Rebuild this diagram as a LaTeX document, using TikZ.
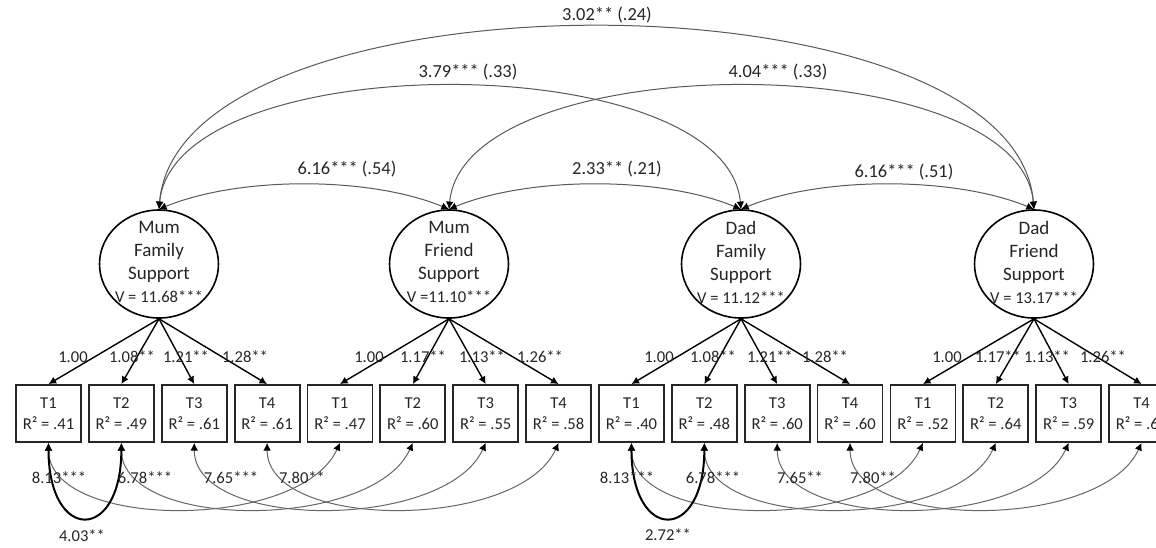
\documentclass[tikz,border=0pt]{standalone}
\usepackage{fontspec}
\setmainfont{Carlito}
\usetikzlibrary{arrows.meta,shapes.geometric}
\begin{document}
\begin{tikzpicture}[x=0.5pt,y=-0.5pt,
  tip/.tip={Latex[length=3.8pt,width=3.8pt,color=black]},
  lat/.style={draw=black, line width=0.8pt, ellipse, minimum width=59.5pt, minimum height=54pt, inner sep=0pt},
  lattext/.style={align=center, font=\fontsize{9.5}{11.5}\selectfont, inner sep=0pt, text=black!85},
  ind/.style={draw=black!85, line width=0.9pt, minimum width=32.5pt, minimum height=28.5pt, inner sep=0pt, align=center, font=\fontsize{8.3}{10.5}\selectfont, text=black!85},
  load/.style={draw=black, line width=0.7pt, -tip},
  cov/.style={draw=black!65, line width=0.5pt, tip-tip},
  rescov/.style={draw=black!60, line width=0.5pt, tip-tip},
  thickcov/.style={draw=black, line width=1pt, tip-tip},
  toplab/.style={font=\fontsize{9.2}{11}\selectfont, inner sep=0pt, text=black!85},
  smlab/.style={font=\fontsize{8.3}{10}\selectfont, inner sep=0pt, text=black!85}
]
\fill[white] (0,0) rectangle (1156,547);
\clip (0,0) rectangle (1156,547);

% latent variables
\node[lat] (mfs) at (159,264) {};
\node[lat] (mfr) at (449,264) {};
\node[lat] (dfs) at (741,264) {};
\node[lat] (dfr) at (1034,264) {};
\node[lattext] (mfs-t) at (159,262) {Mum\\Family\\Support\\{\fontsize{8.3}{10}\selectfont V = 11.68***}};
\node[lattext] (mfr-t) at (449,262) {Mum\\Friend\\Support\\{\fontsize{8.3}{10}\selectfont V =11.10***}};
\node[lattext] (dfs-t) at (741,262) {Dad\\Family\\Support\\{\fontsize{8.3}{10}\selectfont V = 11.12***}};
\node[lattext] (dfr-t) at (1034,262) {Dad\\Friend\\Support\\{\fontsize{8.3}{10}\selectfont V = 13.17***}};

% indicators
\foreach \i/\t/\r in {0/T1/.41,1/T2/.49,2/T3/.61,3/T4/.61,4/T1/.47,5/T2/.60,6/T3/.55,7/T4/.58,
                      8/T1/.40,9/T2/.48,10/T3/.60,11/T4/.60,12/T1/.52,13/T2/.64,14/T3/.59}
  \node[ind] (b\i) at ({48.5+72.87*\i},413.5) {\t\\R² = \r};
\node[ind] (b15) at ({48.5+72.87*15},413.5) {T4\\R² = .6\phantom{0}};

% loadings
\foreach \j in {0,1,2,3} \draw[load] (mfs.south) -- (b\j.north);
\foreach \j in {4,5,6,7} \draw[load] (mfr.south) -- (b\j.north);
\foreach \j in {8,9,10,11} \draw[load] (dfs.south) -- (b\j.north);
\foreach \j in {12,13,14,15} \draw[load] (dfr.south) -- (b\j.north);

\foreach \x/\t in {73/1.00,132/1.08**,186/1.21**,245/1.28**,369/1.00,423/1.17**,482/1.13**,540/1.26**,
                   659/1.00,713/1.08**,770/1.21**,825/1.28**,947/1.00,998/1.17**,1047/1.13**,1103/1.26**}
  \node[smlab] at (\x,357) {\t};

% latent covariances
\draw[cov] (mfs.north) .. controls +(20,-243) and +(-20,-243) .. (dfr.north);
\draw[cov] (mfs.north) .. controls +(15,-164) and +(-15,-164) .. (dfs.north);
\draw[cov] (mfr.north) .. controls +(15,-164) and +(-15,-164) .. (dfr.north);
\draw[cov] (mfs.north) .. controls +(80,-33) and +(-80,-33) .. (mfr.north);
\draw[cov] (mfr.north) .. controls +(80,-33) and +(-80,-33) .. (dfs.north);
\draw[cov] (dfs.north) .. controls +(80,-33) and +(-80,-33) .. (dfr.north);

\node[toplab] at (607,15) {3.02** (.24)};
\node[toplab] at (468,72) {3.79*** (.33)};
\node[toplab] at (778,72) {4.04*** (.33)};
\node[toplab] at (347,169) {6.16*** (.54)};
\node[toplab] at (617,169) {2.33** (.21)};
\node[toplab] at (904,172) {6.16*** (.51)};

% residual covariances
\foreach \a/\b in {0/4,1/5,2/6,3/7,8/12,9/13,10/14,11/15}
  \draw[rescov] (b\a.south) .. controls +(0,88) and +(-40,88) .. (b\b.south);
\draw[thickcov] (b0.south) .. controls +(0,100) and +(0,100) .. (b1.south);
\draw[thickcov] (b8.south) .. controls +(0,100) and +(0,100) .. (b9.south);

\foreach \x/\t in {59/8.13***,145/6.78***,231/7.65***,302/7.80**,627/8.13***,713/6.78***,800/7.65**,873/7.80**}
  \node[smlab] at (\x,478) {\t};
\node[smlab] at (82,536) {4.03**};
\node[smlab] at (668,535) {2.72**};
\end{tikzpicture}
\end{document}
